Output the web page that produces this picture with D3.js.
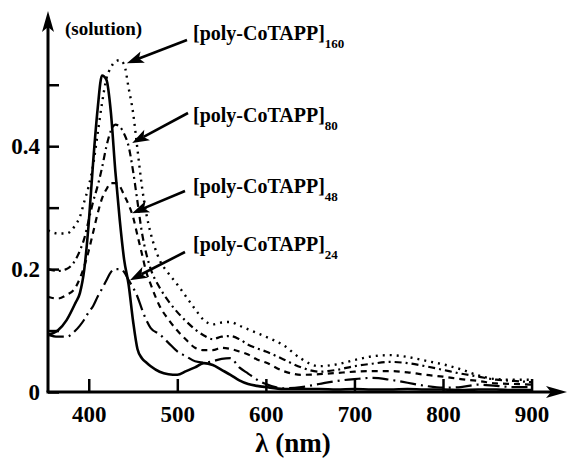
<!DOCTYPE html>
<html>
<head>
<meta charset="utf-8">
<script src="https://cdn.jsdelivr.net/npm/d3@7"></script>
<style>
  body { margin: 0; background: #fff; }
</style>
</head>
<body>
<div id="chart"></div>
<script>
// wavelength grid (nm) shared by all spectra
const wavelength = [354,365,375,385,390,395,400,405,410,415,420,425,430,435,440,445,450,455,460,465,470,480,490,500,510,520,530,540,550,560,570,580,590,600,620,640,660,680,700,720,740,760,780,800,820,840,860,880,900];

// absorbance values
const solution = [0.093,0.100,0.117,0.145,0.161,0.200,0.275,0.375,0.460,0.515,0.508,0.455,0.360,0.280,0.215,0.175,0.116,0.070,0.055,0.048,0.042,0.033,0.029,0.028,0.034,0.040,0.047,0.044,0.036,0.028,0.019,0.013,0.010,0.008,0.005,0.005,0.005,0.004,0.005,0.004,0.004,0.005,0.004,0.004,0.003,0.004,0.004,0.003,0.003];
const poly160 = [0.263,0.258,0.258,0.272,0.285,0.310,0.335,0.370,0.420,0.470,0.510,0.528,0.538,0.540,0.533,0.495,0.455,0.395,0.335,0.290,0.258,0.215,0.193,0.175,0.155,0.135,0.117,0.110,0.113,0.114,0.108,0.102,0.096,0.090,0.076,0.054,0.042,0.045,0.052,0.058,0.060,0.057,0.051,0.045,0.037,0.027,0.021,0.020,0.020];
const poly80 = [0.200,0.197,0.200,0.215,0.230,0.250,0.280,0.310,0.335,0.365,0.400,0.425,0.435,0.432,0.420,0.400,0.360,0.310,0.260,0.225,0.200,0.170,0.148,0.130,0.115,0.102,0.092,0.086,0.090,0.091,0.086,0.077,0.071,0.066,0.053,0.040,0.033,0.036,0.042,0.046,0.049,0.047,0.042,0.036,0.030,0.025,0.020,0.018,0.016];
const poly48 = [0.155,0.152,0.158,0.170,0.185,0.205,0.230,0.260,0.290,0.315,0.330,0.340,0.340,0.335,0.320,0.305,0.285,0.255,0.225,0.195,0.175,0.140,0.118,0.100,0.085,0.072,0.068,0.068,0.072,0.070,0.066,0.061,0.053,0.048,0.034,0.028,0.029,0.031,0.033,0.034,0.034,0.032,0.028,0.025,0.021,0.018,0.014,0.013,0.012];
const poly24 = [0.093,0.090,0.090,0.100,0.108,0.118,0.130,0.140,0.155,0.168,0.182,0.195,0.200,0.200,0.195,0.182,0.170,0.155,0.135,0.117,0.104,0.094,0.080,0.066,0.058,0.050,0.048,0.050,0.054,0.055,0.040,0.030,0.020,0.013,0.006,0.008,0.013,0.018,0.021,0.023,0.020,0.015,0.010,0.007,0.008,0.012,0.010,0.008,0.008];

const xTicks = [400, 500, 600, 700, 800, 900];
const yTicks = [0, 0.1, 0.2, 0.3, 0.4, 0.5];
const yLabelled = [0, 0.2, 0.4];

const width = 570, height = 459;
const font = "'Liberation Serif', 'Times New Roman', serif";

const svg = d3.select("#chart").append("svg")
  .attr("width", width)
  .attr("height", height)
  .style("font-family", font)
  .style("font-weight", "bold");

const x = d3.scaleLinear().domain([354, 940]).range([48, 567]);
const y = d3.scaleLinear().domain([0, 0.62]).range([392, 11]);

// x axis: ticks point up into the plot
const xAxis = svg.append("g")
  .attr("transform", `translate(0,${y(0)})`)
  .call(d3.axisBottom(x).tickValues(xTicks).tickSizeInner(-13).tickSizeOuter(0).tickPadding(14));
xAxis.select(".domain").remove();
xAxis.selectAll("line").attr("stroke", "#000").attr("stroke-width", 2.5);
xAxis.selectAll("text").style("font-size", "23px").style("font-family", font).style("font-weight", "bold");

// y axis: ticks point right, labels only on every other tick
const yAxis = svg.append("g")
  .attr("transform", `translate(${x(354)},0)`)
  .call(d3.axisLeft(y).tickValues(yTicks).tickSizeInner(-11).tickSizeOuter(0).tickPadding(8)
    .tickFormat(d => yLabelled.some(v => Math.abs(v - d) < 1e-9) ? (d === 0 ? "0" : d3.format(".1f")(d)) : ""));
yAxis.select(".domain").remove();
yAxis.selectAll("line").attr("stroke", "#000").attr("stroke-width", 2.5);
yAxis.selectAll("text").style("font-size", "23px").style("font-family", font).style("font-weight", "bold");

// axis lines with arrow heads
const x0 = x(354), y0 = y(0);
svg.append("line").attr("x1", x0).attr("y1", y0).attr("x2", x0).attr("y2", y(0.62) + 10)
  .attr("stroke", "#000").attr("stroke-width", 3);
svg.append("line").attr("x1", x0 - 1.5).attr("y1", y0).attr("x2", x(940) - 10).attr("y2", y0)
  .attr("stroke", "#000").attr("stroke-width", 3);
const yt = y(0.62), xt = x(940);
svg.append("path").attr("d", `M${x0},${yt} L${x0 - 6},${yt + 21} L${x0},${yt + 16} L${x0 + 6},${yt + 21} Z`).attr("fill", "#000");
svg.append("path").attr("d", `M${xt},${y0} L${xt - 21},${y0 - 6} L${xt - 16},${y0} L${xt - 21},${y0 + 6} Z`).attr("fill", "#000");

// spectra
const series = [
  { values: solution, dash: null, w: 2.6 },
  { values: poly160, dash: "2,5", w: 2.4 },
  { values: poly80, dash: "7,4,2,4", w: 2.2 },
  { values: poly48, dash: "6,5", w: 2.2 },
  { values: poly24, dash: "16,5,2,5", w: 2.2 }
];

const line = d3.line()
  .x((d, i) => x(wavelength[i]))
  .y(d => y(d))
  .curve(d3.curveMonotoneX);

svg.selectAll("path.spec")
  .data(series)
  .enter()
  .append("path")
  .attr("class", "spec")
  .attr("d", d => line(d.values))
  .attr("fill", "none")
  .attr("stroke", "#000")
  .attr("stroke-width", d => d.w)
  .attr("stroke-dasharray", d => d.dash);

// axis title
svg.append("text")
  .attr("x", 293).attr("y", 452)
  .attr("text-anchor", "middle")
  .style("font-size", "27px")
  .text("\u03bb  (nm)");

svg.append("text")
  .attr("x", 65).attr("y", 35)
  .style("font-size", "19px")
  .text("(solution)");

// labels with arrows
const notes = [
  { sub: "160", ly: 40, tail: [187, 40], tip: [443, 0.535] },
  { sub: "80", ly: 122, tail: [188, 113], tip: [449, 0.405] },
  { sub: "48", ly: 193, tail: [185, 191], tip: [449, 0.291] },
  { sub: "24", ly: 251, tail: [185, 252], tip: [446.5, 0.182] }
];

notes.forEach(n => {
  const t = svg.append("text").attr("x", 193).attr("y", n.ly).style("font-size", "20px");
  t.append("tspan").text("[poly-CoTAPP]");
  t.append("tspan").attr("dy", 8).style("font-size", "13px").text(n.sub);

  const tx = x(n.tip[0]), ty = y(n.tip[1]);
  const [fx, fy] = n.tail;
  const len = Math.hypot(tx - fx, ty - fy);
  const ux = (tx - fx) / len, uy = (ty - fy) / len;
  const nx = -uy, ny = ux;
  const L = 17, W = 6;
  svg.append("line")
    .attr("x1", fx).attr("y1", fy)
    .attr("x2", tx - ux * (L - 4)).attr("y2", ty - uy * (L - 4))
    .attr("stroke", "#000").attr("stroke-width", 2.6);
  svg.append("path")
    .attr("d", `M${tx},${ty} L${tx - ux * L + nx * W},${ty - uy * L + ny * W} L${tx - ux * (L - 4)},${ty - uy * (L - 4)} L${tx - ux * L - nx * W},${ty - uy * L - ny * W} Z`)
    .attr("fill", "#000");
});
</script>
</body>
</html>
